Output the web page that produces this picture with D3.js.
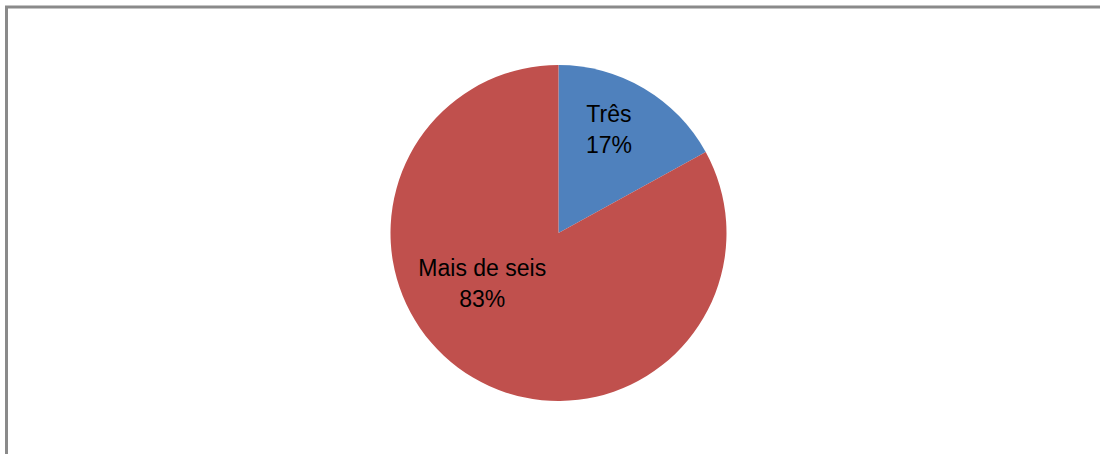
<!DOCTYPE html>
<html>
<head>
<meta charset="utf-8">
<script src="https://cdn.jsdelivr.net/npm/d3@7"></script>
<style>
	html, body { margin: 0; padding: 0; background: #fff; }
	svg { display: block; }
	.label { font-family: 'Liberation Sans', Arial, sans-serif; font-size: 23px; fill: #000; }
</style>
</head>
<body>
<svg id="chart"></svg>
<script>
const CATEGORIES = ['Três', 'Mais de seis'];
const VALUES = [17, 83];
const PERCENT_LABELS = ['17%', '83%'];
const COLORS = ['#4f81bd', '#c0504d'];

const WIDTH = 1100;
const HEIGHT = 454;
const CX = 558.5;
const CY = 233;
const RADIUS = 168;
// label placement (angle in degrees from 12 o'clock, distance from centre)
const LABEL_POS = [
	{ angle: 26, dist: 115 },
	{ angle: 236, dist: 92 }
];

const $svg = d3.select('#chart').attr('width', WIDTH).attr('height', HEIGHT);

// frame (only top and left edges are visible in the crop)
$svg.append('rect')
	.attr('x', 6.5)
	.attr('y', 7)
	.attr('width', WIDTH + 20)
	.attr('height', HEIGHT + 20)
	.attr('fill', 'none')
	.attr('stroke', '#8a8a8a')
	.attr('stroke-width', 3);

const data = CATEGORIES.map((c, i) => ({ name: c, value: VALUES[i], pct: PERCENT_LABELS[i], i }));

const pie = d3.pie().sort(null).value(d => d.value);
const arc = d3.arc().innerRadius(0).outerRadius(RADIUS);
const color = d3.scaleOrdinal().domain(CATEGORIES).range(COLORS);

const $g = $svg.append('g').attr('transform', `translate(${CX},${CY})`);

$g.selectAll('path.slice')
	.data(pie(data))
	.enter()
	.append('path')
	.attr('class', 'slice')
	.attr('d', arc)
	.attr('fill', d => color(d.data.name));

const $labels = $g.selectAll('text.label')
	.data(pie(data))
	.enter()
	.append('text')
	.attr('class', 'label')
	.attr('text-anchor', 'middle')
	.attr('transform', d => {
		const p = LABEL_POS[d.data.i];
		const a = p.angle * Math.PI / 180;
		return `translate(${p.dist * Math.sin(a)},${-p.dist * Math.cos(a)})`;
	});

$labels.append('tspan').attr('x', 0).attr('y', -8).text(d => d.data.name);
$labels.append('tspan').attr('x', 0).attr('y', 23).text(d => d.data.pct);
</script>
</body>
</html>
